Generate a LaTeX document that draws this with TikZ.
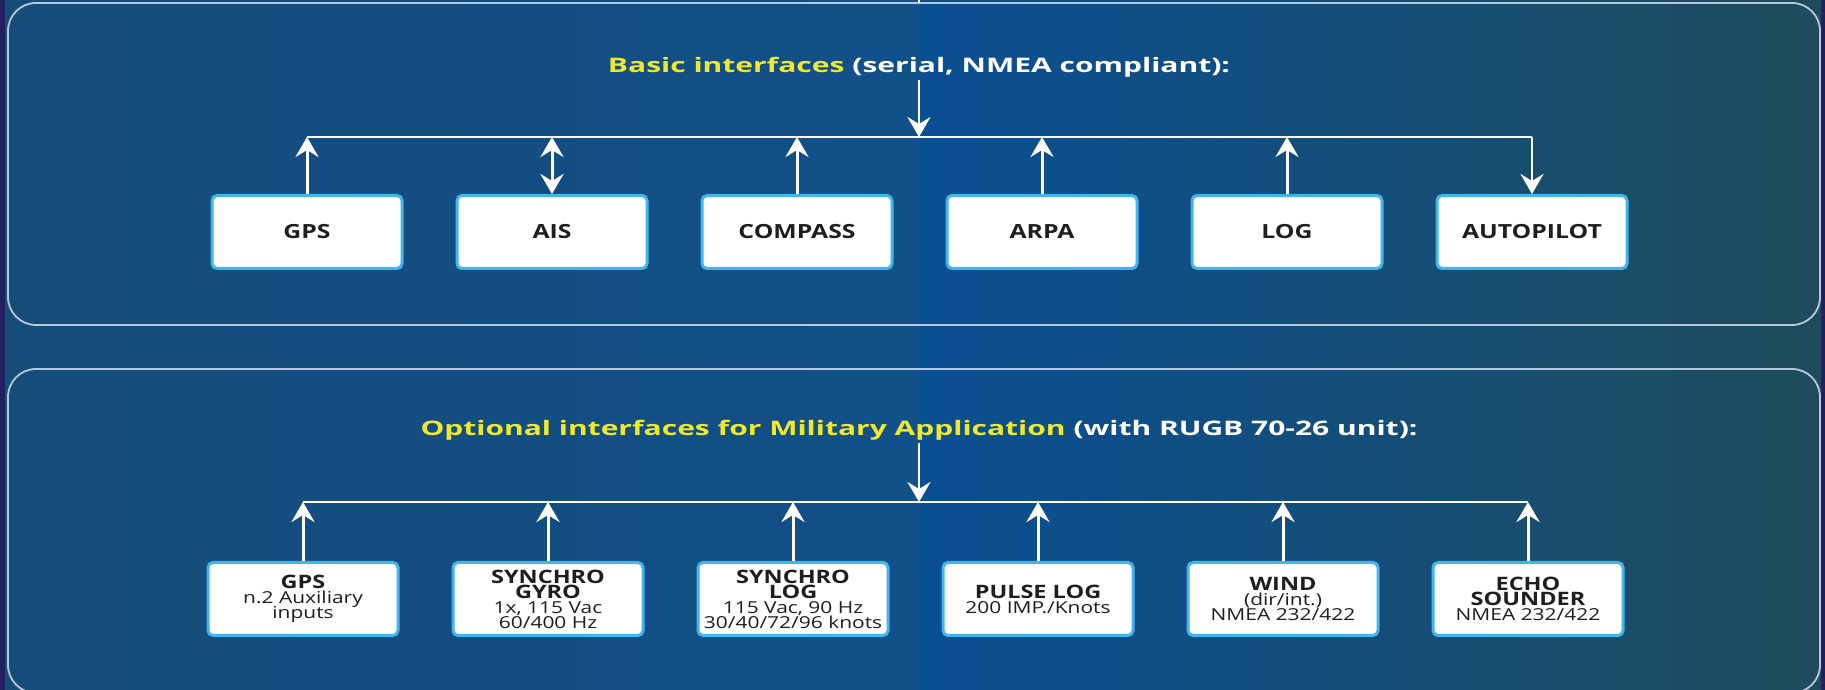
\documentclass[tikz,border=0pt]{standalone}
\usepackage{fontspec}
\setmainfont{Open Sans}[FakeStretch=1.27]
\usetikzlibrary{arrows.meta}
\definecolor{frame}{HTML}{221F5E}
\definecolor{seaL}{HTML}{164C7A}
\definecolor{seaM}{HTML}{115089}
\definecolor{seaC}{HTML}{0A4F93}
\definecolor{seaR}{HTML}{1E4C5C}
\definecolor{rim}{HTML}{B8C8D8}
\definecolor{glow}{HTML}{3FB6EC}
\definecolor{hilite}{HTML}{F0E82A}
\definecolor{ink}{HTML}{1E1E1E}
\newcommand{\hd}[1]{{\fontsize{18.5}{15}\selectfont\bfseries #1}}
\newcommand{\tightlines}{\lineskiplimit=-30pt\relax}

\begin{document}
\begin{tikzpicture}[x=1pt,y=1pt,>={Stealth[length=20pt,width=23pt,inset=7pt]},
	panel/.style={draw=rim,line width=1.8pt,rounded corners=28pt,inner sep=0pt,outer sep=0pt},
	box/.style={draw=glow,line width=3pt,fill=white,rounded corners=5pt,minimum width=190pt,minimum height=73pt,inner sep=0pt,text=ink,align=center,font=\fontsize{16.5}{15}\selectfont\tightlines},
	title/.style={text=white,anchor=base,inner sep=2pt,font=\fontsize{20}{20}\selectfont\bfseries\addfontfeatures{FakeStretch=1.5}},
	bus/.style={draw=white,line width=2pt},
	lnk/.style={draw=white,line width=3pt,->},
	feed/.style={draw=white,line width=2.4pt,->}]
	\useasboundingbox (0,0) rectangle (1825,690);
	% background
	\fill[frame] (0,0) rectangle (1825,690);
	\shade[left color=seaL,right color=seaM] (5,0) rectangle (920,690);
	\shade[left color=seaC,middle color=seaM!60!seaR,right color=seaR] (920,0) rectangle (1821,690);
	\node (pnlA) at (914,526) [panel,minimum width=1812pt,minimum height=322pt] {};
	\node (pnlB) at (914,159) [panel,minimum width=1812pt,minimum height=324pt] {};
	\coordinate (top) at (919,690);
	\draw[bus] (top) -- (top |- pnlA.north);
	% basic interfaces
	\node (ttlA) at (919,617) [title] {\textcolor{hilite}{Basic interfaces} (serial, NMEA compliant):};
	\coordinate (busA) at (919,553);
	\node (gps) at (307,458) [box] {\textbf{\fontsize{19.5}{20}\selectfont GPS}};
	\node (ais) at (552,458) [box] {\textbf{\fontsize{19.5}{20}\selectfont AIS}};
	\node (cmp) at (797,458) [box] {\textbf{\fontsize{19.5}{20}\selectfont COMPASS}};
	\node (arpa) at (1042,458) [box] {\textbf{\fontsize{19.5}{20}\selectfont ARPA}};
	\node (log) at (1287,458) [box] {\textbf{\fontsize{19.5}{20}\selectfont LOG}};
	\node (ap) at (1532,458) [box] {\textbf{\fontsize{19.5}{20}\selectfont AUTOPILOT}};
	\draw[feed] (ttlA.south) -- (ttlA.south |- busA);
	\draw[bus] (gps.north |- busA) -- (ap.north |- busA);
	\draw[lnk] (gps.north) -- (gps.north |- busA);
	\draw[lnk,<->] (ais.north) -- (ais.north |- busA);
	\draw[lnk] (cmp.north) -- (cmp.north |- busA);
	\draw[lnk] (arpa.north) -- (arpa.north |- busA);
	\draw[lnk] (log.north) -- (log.north |- busA);
	\draw[feed] (ap.north |- busA) -- (ap.north);
	% military options
	\node (ttlB) at (919,254) [title] {\textcolor{hilite}{Optional interfaces for Military Application} (with RUGB 70-26 unit):};
	\coordinate (busB) at (919,188);
	\node (gpsx) at (303,91) [box] {\hd{GPS}\\n.2 Auxiliary\\inputs};
	\node (sgyro) at (548,91) [box] {\hd{SYNCHRO}\\\hd{GYRO}\\1x, 115 Vac\\60/400 Hz};
	\node (slog) at (793,91) [box] {\hd{SYNCHRO}\\\hd{LOG}\\115 Vac, 90 Hz\\30/40/72/96 knots};
	\node (plog) at (1038,91) [box] {\hd{PULSE LOG}\\200 IMP./Knots};
	\node (wind) at (1283,91) [box] {\hd{WIND}\\(dir/int.)\\NMEA 232/422};
	\node (echo) at (1528,91) [box] {\hd{ECHO}\\\hd{SOUNDER}\\NMEA 232/422};
	\draw[feed] (ttlB.south) -- (ttlB.south |- busB);
	\draw[bus] (gpsx.north |- busB) -- (echo.north |- busB);
	\draw[lnk] (gpsx.north) -- (gpsx.north |- busB);
	\draw[lnk] (sgyro.north) -- (sgyro.north |- busB);
	\draw[lnk] (slog.north) -- (slog.north |- busB);
	\draw[lnk] (plog.north) -- (plog.north |- busB);
	\draw[lnk] (wind.north) -- (wind.north |- busB);
	\draw[lnk] (echo.north) -- (echo.north |- busB);
\end{tikzpicture}
\end{document}
